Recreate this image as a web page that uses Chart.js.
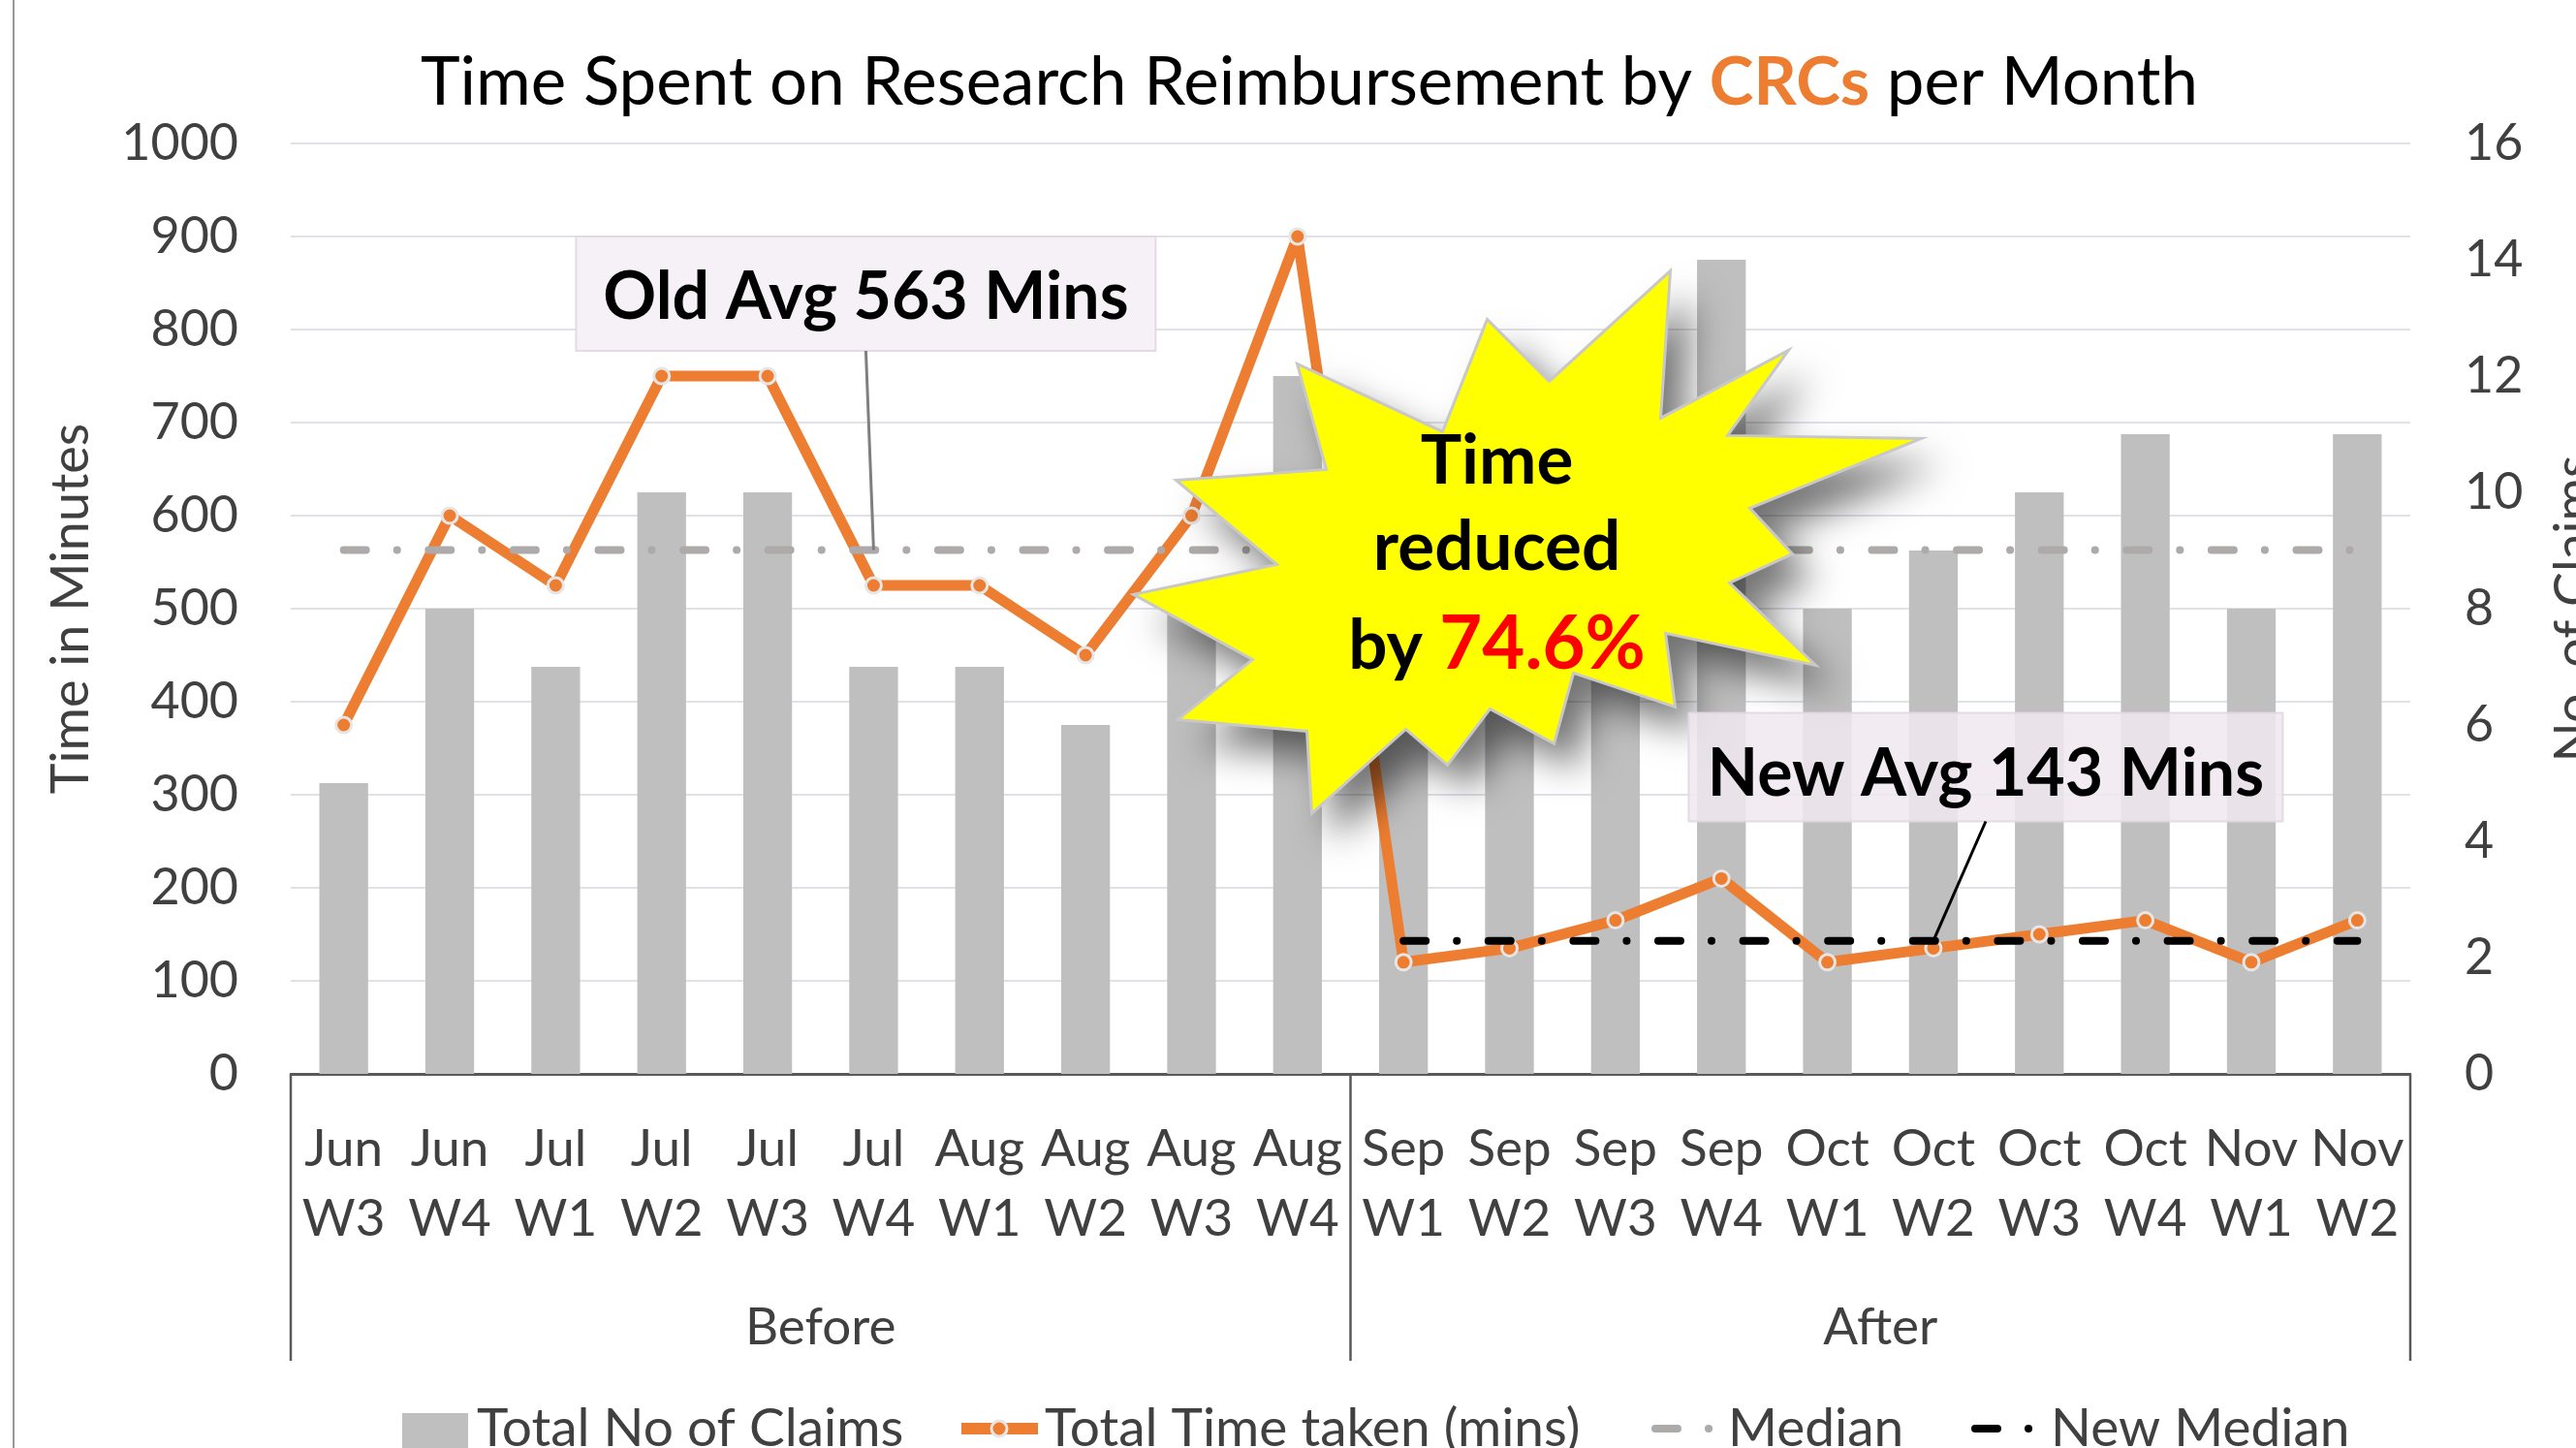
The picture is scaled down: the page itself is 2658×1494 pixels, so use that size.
<!DOCTYPE html>
<html>
<head>
<meta charset="utf-8">
<title>Time Spent on Research Reimbursement by CRCs per Month</title>
<script src="https://cdn.jsdelivr.net/npm/chart.js@4.4.1/dist/chart.umd.min.js"></script>
<style>
    html, body { margin: 0; padding: 0; background: #ffffff; }
    #wrap { width: 2658px; height: 1494px; position: relative; }
</style>
</head>
<body>
<div id="wrap"><canvas id="myChart"></canvas></div>
<script>
// week labels, two lines each
const weeks = [
    ["Jun", "W3"], ["Jun", "W4"], ["Jul", "W1"], ["Jul", "W2"], ["Jul", "W3"],
    ["Jul", "W4"], ["Aug", "W1"], ["Aug", "W2"], ["Aug", "W3"], ["Aug", "W4"],
    ["Sep", "W1"], ["Sep", "W2"], ["Sep", "W3"], ["Sep", "W4"], ["Oct", "W1"],
    ["Oct", "W2"], ["Oct", "W3"], ["Oct", "W4"], ["Nov", "W1"], ["Nov", "W2"]
];
const groups = ["Before", "After"];
const groupSizes = [10, 10];

const claims = [5, 8, 7, 10, 10, 7, 7, 6, 8, 12, 8, 9, 10, 14, 8, 9, 10, 11, 8, 11];
const timeTaken = [375, 600, 525, 750, 750, 525, 525, 450, 600, 900, 120, 135, 165, 210, 120, 135, 150, 165, 120, 165];
const median = [563, 563, 563, 563, 563, 563, 563, 563, 563, 563, 563, 563, 563, 563, 563, 563, 563, 563, 563, 563];
const newMedian = [null, null, null, null, null, null, null, null, null, null, 143, 143, 143, 143, 143, 143, 143, 143, 143, 143];

const leftTicks = [0, 1000, 100];
const rightTicks = [0, 16, 2];

const FONT = "Lato";
const TEXT = "#404040";
const ORANGE = "#ed7d31";
const GREY_BAR = "#bfbfbf";
const MEDIAN_GREY = "#aeaaaa";
const dashDot = [23, 32, 0.1, 32.5];

const drawParts = (ctx, parts, cx, baseline) => {
    let total = 0;
    parts.forEach(p => {
        ctx.font = p.font;
        total += ctx.measureText(p.text).width;
    });
    let x = cx - total / 2;
    ctx.textAlign = "left";
    ctx.textBaseline = "alphabetic";
    parts.forEach(p => {
        ctx.font = p.font;
        ctx.fillStyle = p.color;
        ctx.fillText(p.text, x, baseline);
        x += ctx.measureText(p.text).width;
    });
}

// starburst outline, offsets from its anchor point
const starShape = [
    [166, -291], [156, -139], [288, -209], [225, -121], [425, -118], [248, -46],
    [292, 1], [227, 31], [316, 116], [161, 83], [171, 159], [66, 124],
    [46, 197], [-20, 161], [-64, 219], [-107, 182], [-204, 269], [-209, 184],
    [-342, 172], [-265, 110], [-388, 43], [-240, 12], [-344, -75], [-189, -86],
    [-219, -195], [-69, -125], [-23, -241], [41, -177]
];

const extras = {
    id: "extras",
    afterDraw(chart) {
        const ctx = chart.ctx;
        const xs = chart.scales.x;
        const ys = chart.scales.y;
        const area = chart.chartArea;

        ctx.save();

        // outer frame line on the left
        ctx.strokeStyle = "#9a9a9a";
        ctx.lineWidth = 2;
        ctx.beginPath();
        ctx.moveTo(14, 0);
        ctx.lineTo(14, chart.height);
        ctx.stroke();

        // title
        drawParts(ctx, [
            { text: "Time Spent on Research Reimbursement by ", font: "69px " + FONT, color: "#000000" },
            { text: "CRCs", font: "bold 69px " + FONT, color: ORANGE },
            { text: " per Month", font: "69px " + FONT, color: "#000000" }
        ], 1351, 108);

        // axis titles
        ctx.fillStyle = TEXT;
        ctx.font = "54px " + FONT;
        ctx.textAlign = "center";
        ctx.textBaseline = "alphabetic";
        ctx.save();
        ctx.translate(91, (area.top + area.bottom) / 2);
        ctx.rotate(-Math.PI / 2);
        ctx.fillText("Time in Minutes", 0, 0);
        ctx.restore();
        ctx.save();
        ctx.translate(2674, (area.top + area.bottom) / 2);
        ctx.rotate(-Math.PI / 2);
        ctx.fillText("No. of Claims", 0, 0);
        ctx.restore();

        // group separators and group names
        const step = (area.right - area.left) / weeks.length;
        ctx.strokeStyle = "#595959";
        ctx.lineWidth = 2.5;
        let start = 0;
        const edges = [0];
        groupSizes.forEach(n => { start += n; edges.push(start); });
        edges.forEach(e => {
            const x = area.left + e * step;
            ctx.beginPath();
            ctx.moveTo(x, area.bottom);
            ctx.lineTo(x, 1404);
            ctx.stroke();
        });
        ctx.fillStyle = TEXT;
        ctx.font = "53px " + FONT;
        ctx.textAlign = "center";
        groups.forEach((g, i) => {
            const x = area.left + (edges[i] + edges[i + 1]) / 2 * step;
            ctx.fillText(g, x, 1387);
        });

        // starburst
        const sx = xs.getPixelForValue(11);
        const sy = ys.getPixelForValue(560);
        ctx.save();
        ctx.beginPath();
        starShape.forEach((p, i) => {
            if (i === 0) ctx.moveTo(sx + p[0], sy + p[1]);
            else ctx.lineTo(sx + p[0], sy + p[1]);
        });
        ctx.closePath();
        ctx.shadowColor = "rgba(0,0,0,0.55)";
        ctx.shadowBlur = 38;
        ctx.shadowOffsetX = 22;
        ctx.shadowOffsetY = 26;
        ctx.fillStyle = "#ffff00";
        ctx.fill();
        ctx.restore();
        ctx.strokeStyle = "#c8c8c8";
        ctx.lineWidth = 3;
        ctx.stroke();

        const starFont = "bold 71px " + FONT;
        drawParts(ctx, [{ text: "Time", font: starFont, color: "#000000" }], sx - 13, sy - 71);
        drawParts(ctx, [{ text: "reduced", font: starFont, color: "#000000" }], sx - 13, sy + 18);
        drawParts(ctx, [
            { text: "by ", font: starFont, color: "#000000" },
            { text: "74.6%", font: "bold 76px " + FONT, color: "#ff0000" }
        ], sx - 13, sy + 120);

        // callout boxes
        const boxFont = "bold 68px " + FONT;
        const callout = (text, anchorIdx, anchorVal, dx, topVal, w, h, lineColor, fill) => {
            const ax = xs.getPixelForValue(anchorIdx);
            const ay = ys.getPixelForValue(anchorVal);
            const cx = ax + dx;
            const top = ys.getPixelForValue(topVal);
            ctx.fillStyle = fill;
            ctx.fillRect(cx - w / 2, top, w, h);
            ctx.strokeStyle = "rgba(225,215,225,0.9)";
            ctx.lineWidth = 2;
            ctx.strokeRect(cx - w / 2, top, w, h);
            ctx.strokeStyle = lineColor;
            ctx.lineWidth = 3;
            ctx.beginPath();
            ctx.moveTo(cx, top + h);
            ctx.lineTo(ax, ay);
            ctx.stroke();
            drawParts(ctx, [{ text: text, font: boxFont, color: "#000000" }], cx, top + 85);
        };
        callout("Old Avg 563 Mins", 5, median[5], -8, 900, 598, 118, "#7f7f7f", "#f6f1f6");
        callout("New Avg 143 Mins", 15, newMedian[15], 54, 388, 613, 112, "#000000", "rgba(240,232,240,0.85)");

        // legend
        const ly = 1474;
        ctx.font = "55px " + FONT;
        ctx.textAlign = "left";
        ctx.textBaseline = "alphabetic";
        ctx.fillStyle = GREY_BAR;
        ctx.fillRect(415, 1458, 68, 60);
        ctx.fillStyle = TEXT;
        ctx.fillText("Total No of Claims", 492, 1492);

        ctx.strokeStyle = ORANGE;
        ctx.lineWidth = 12;
        ctx.beginPath();
        ctx.moveTo(992, ly);
        ctx.lineTo(1071, ly);
        ctx.stroke();
        ctx.beginPath();
        ctx.arc(1031, ly, 8, 0, Math.PI * 2);
        ctx.fillStyle = ORANGE;
        ctx.fill();
        ctx.strokeStyle = "#e6e6e6";
        ctx.lineWidth = 3;
        ctx.stroke();
        ctx.fillStyle = TEXT;
        ctx.fillText("Total Time taken (mins)", 1078, 1492);

        const dashKey = (x0, x1, color) => {
            ctx.save();
            ctx.strokeStyle = color;
            ctx.lineWidth = 8;
            ctx.lineCap = "round";
            ctx.setLineDash(dashDot);
            ctx.beginPath();
            ctx.moveTo(x0 + 4, ly);
            ctx.lineTo(x1, ly);
            ctx.stroke();
            ctx.restore();
        };
        dashKey(1704, 1771, MEDIAN_GREY);
        ctx.fillText("Median", 1783, 1492);
        dashKey(2034, 2102, "#000000");
        ctx.fillText("New Median", 2116, 1492);

        ctx.restore();
    }
};

const data = {
    labels: weeks,
    datasets: [
        {
            type: "line",
            label: "New Median",
            data: newMedian,
            yAxisID: "y",
            borderColor: "#000000",
            borderWidth: 8,
            borderDash: dashDot,
            borderCapStyle: "round",
            pointRadius: 0,
            order: 0
        },
        {
            type: "line",
            label: "Median",
            data: median,
            yAxisID: "y",
            borderColor: MEDIAN_GREY,
            borderWidth: 8,
            borderDash: dashDot,
            borderCapStyle: "round",
            pointRadius: 0,
            order: 1
        },
        {
            type: "line",
            label: "Total Time taken (mins)",
            data: timeTaken,
            yAxisID: "y",
            borderColor: ORANGE,
            borderWidth: 11,
            borderJoinStyle: "round",
            pointRadius: 8,
            pointBackgroundColor: ORANGE,
            pointBorderColor: "#e6e6e6",
            pointBorderWidth: 3,
            tension: 0,
            order: 2
        },
        {
            type: "bar",
            label: "Total No of Claims",
            data: claims,
            yAxisID: "y1",
            backgroundColor: GREY_BAR,
            categoryPercentage: 1,
            barPercentage: 0.46,
            order: 3
        }
    ]
};

const config = {
    type: "bar",
    data: data,
    options: {
        responsive: true,
        maintainAspectRatio: false,
        devicePixelRatio: 1,
        animation: false,
        layout: { padding: { top: 148, left: 0, right: 0, bottom: 0 } },
        plugins: {
            legend: { display: false },
            title: { display: false },
            tooltip: { enabled: false }
        },
        scales: {
            x: {
                grid: { display: false },
                border: { display: true, color: "#595959", width: 3 },
                ticks: {
                    color: TEXT,
                    font: { family: FONT, size: 53, lineHeight: 1.36 },
                    padding: 34,
                    maxRotation: 0,
                    autoSkip: false
                },
                afterFit: s => { s.height = 386; }
            },
            y: {
                position: "left",
                min: leftTicks[0],
                max: leftTicks[1],
                grid: { color: "#dfe3e8", lineWidth: 2, drawTicks: false },
                border: { display: false },
                ticks: {
                    stepSize: leftTicks[2],
                    color: TEXT,
                    font: { family: FONT, size: 52 },
                    padding: 54,
                    callback: v => String(v)
                },
                afterFit: s => { s.width = 300; }
            },
            y1: {
                position: "right",
                min: rightTicks[0],
                max: rightTicks[1],
                grid: { display: false, drawTicks: false },
                border: { display: false },
                ticks: {
                    stepSize: rightTicks[2],
                    color: TEXT,
                    font: { family: FONT, size: 52 },
                    padding: 56,
                    callback: v => String(v)
                },
                afterFit: s => { s.width = 171; }
            }
        }
    },
    plugins: [extras]
};

var myChart = new Chart(document.getElementById("myChart"), config);
</script>
</body>
</html>
